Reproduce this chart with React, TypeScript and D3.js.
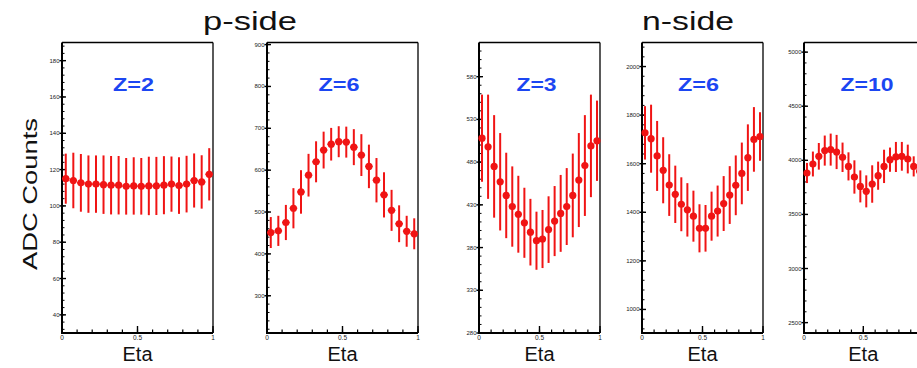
import React, { useRef, useEffect } from 'react'
import * as d3 from 'd3'

// eta bin centres (20 bins over 0..1)
const etaBins = [0.025, 0.075, 0.125, 0.175, 0.225, 0.275, 0.325, 0.375, 0.425, 0.475,
  0.525, 0.575, 0.625, 0.675, 0.725, 0.775, 0.825, 0.875, 0.925, 0.975]

// p-side, Z=2
const pZ2Values = [115, 114, 112.7, 112, 112, 111.7, 111.4, 111.4, 110.8, 111, 110.8, 111, 111, 111.4, 112, 111.2, 112, 114, 113.2, 117.4]
const pZ2Errors = [13.8, 15.3, 15.9, 15.8, 15.8, 16.1, 16.1, 16.1, 15.6, 15.8, 15.6, 16.1, 16, 16, 15.2, 15.6, 15.6, 14.9, 14.7, 14.4]
const pZ2Ticks = [40, 60, 80, 100, 120, 140, 160, 180]

// p-side, Z=6
const pZ6Values = [451, 455, 475, 509, 548, 588, 620, 648, 662, 668, 667, 655, 636, 609, 576, 541, 504, 472, 454, 448]
const pZ6Errors = [37, 36, 42, 48, 52, 51, 49, 44, 39, 37, 37, 43, 50, 52, 53, 54, 49, 44, 37, 37]
const pZ6Ticks = [300, 400, 500, 600, 700, 800, 900]

// n-side, Z=3
const nZ3Values = [508, 498, 475, 457, 441, 428, 419, 409, 398, 388, 390, 401, 411, 420, 428, 441, 459, 476, 499, 505]
const nZ3Errors = [51, 61, 60, 57, 50, 47, 45, 41, 39, 34, 34, 39, 41, 45, 45, 49, 55, 59, 60, 47]
const nZ3Ticks = [280, 330, 380, 430, 480, 530, 580]

// n-side, Z=6
const nZ6Values = [1727, 1703, 1632, 1573, 1512, 1474, 1433, 1410, 1384, 1334, 1334, 1384, 1405, 1436, 1471, 1511, 1560, 1625, 1700, 1712]
const nZ6Errors = [110, 140, 144, 136, 127, 118, 111, 110, 105, 99, 96, 101, 105, 113, 119, 123, 127, 137, 133, 100]
const nZ6Ticks = [1000, 1200, 1400, 1600, 1800, 2000]

// n-side, Z=10
const nZ10Values = [3883, 3966, 4037, 4090, 4099, 4077, 4028, 3944, 3846, 3759, 3713, 3781, 3858, 3944, 4006, 4031, 4037, 4012, 3944, 3900]
const nZ10Errors = [93, 115, 123, 139, 148, 158, 136, 130, 154, 148, 148, 173, 130, 154, 112, 139, 133, 133, 93, 110]
const nZ10Ticks = [2500, 3000, 3500, 4000, 4500, 5000]

const etaTicks = [0, 0.5, 1]
const etaTickLabels = ['0', '0.5', '1']

const RED = '#f01414'
const BLUE = '#1c46f2'
const FONT = 'Arial, "Liberation Sans", sans-serif'

const W = 917
const H = 368
const TOP = 42.5
const BOTTOM = 333

// layout of each frame (pixel range of eta axis) and label placement
const panels = [
  { label: 'Z=2', values: pZ2Values, errors: pZ2Errors, ticks: pZ2Ticks, domain: [30, 190], x0: 62, x1: 213, lx: 133.5, lw: 41 },
  { label: 'Z=6', values: pZ6Values, errors: pZ6Errors, ticks: pZ6Ticks, domain: [211, 905], x0: 267, x1: 418, lx: 339, lw: 41 },
  { label: 'Z=3', values: nZ3Values, errors: nZ3Errors, ticks: nZ3Ticks, domain: [280, 620], x0: 479, x1: 600, lx: 536.5, lw: 40 },
  { label: 'Z=6', values: nZ6Values, errors: nZ6Errors, ticks: nZ6Ticks, domain: [903, 2099], x0: 642, x1: 763, lx: 698.5, lw: 41 },
  { label: 'Z=10', values: nZ10Values, errors: nZ10Errors, ticks: nZ10Ticks, domain: [2404, 5089], x0: 804, x1: 922.6, lx: 867, lw: 53 },
]

export default function App() {
  const svgRef = useRef<SVGSVGElement>(null)

  useEffect(() => {
    if (!svgRef.current) return
    const svg = d3.select(svgRef.current)
    svg.selectAll('*').remove()

    svg.append('rect').attr('width', W).attr('height', H).attr('fill', '#fff')

    panels.forEach(p => {
      const x = d3.scaleLinear().domain([0, 1]).range([p.x0, p.x1])
      const y = d3.scaleLinear().domain(p.domain).range([BOTTOM, TOP])
      const g = svg.append('g')
      const step = p.ticks[1] - p.ticks[0]

      // frame: thin top/right, thick left/bottom
      g.append('line').attr('x1', p.x0).attr('x2', p.x1).attr('y1', TOP).attr('y2', TOP)
        .attr('stroke', '#000').attr('stroke-width', 1.3)
      g.append('line').attr('x1', p.x1).attr('x2', p.x1).attr('y1', TOP).attr('y2', BOTTOM)
        .attr('stroke', '#000').attr('stroke-width', 1.3)
      g.append('line').attr('x1', p.x0).attr('x2', p.x0).attr('y1', TOP).attr('y2', BOTTOM + 1)
        .attr('stroke', '#000').attr('stroke-width', 2)
      g.append('line').attr('x1', p.x0 - 1).attr('x2', p.x1).attr('y1', BOTTOM).attr('y2', BOTTOM)
        .attr('stroke', '#000').attr('stroke-width', 2)

      // y minor ticks (5 per major interval)
      const minorTicks = d3.range(Math.ceil(p.domain[0] / (step / 5)), Math.floor(p.domain[1] / (step / 5)) + 1)
        .map(k => k * step / 5)
      g.selectAll('.ymin').data(minorTicks).enter().append('line')
        .attr('x1', p.x0).attr('x2', p.x0 + 2.5)
        .attr('y1', d => y(d)).attr('y2', d => y(d))
        .attr('stroke', '#000').attr('stroke-width', 1)

      // y major ticks + labels
      g.selectAll('.ymaj').data(p.ticks).enter().append('line')
        .attr('x1', p.x0 - 2.5).attr('x2', p.x0 + 4)
        .attr('y1', d => y(d)).attr('y2', d => y(d))
        .attr('stroke', '#000').attr('stroke-width', 1.4)
      g.selectAll('.ylab').data(p.ticks).enter().append('text')
        .attr('x', p.x0 - 2.5).attr('y', d => y(d) + 2)
        .attr('text-anchor', 'end')
        .style('font-size', '6px').style('font-family', FONT).style('fill', '#222')
        .text(d => d)

      // x minor + major ticks
      const xMinor = d3.range(0, 11).map(k => k / 10).filter(v => x(v) < W)
      g.selectAll('.xmin').data(xMinor).enter().append('line')
        .attr('x1', d => x(d)).attr('x2', d => x(d))
        .attr('y1', BOTTOM).attr('y2', BOTTOM - 3.5)
        .attr('stroke', '#000').attr('stroke-width', 1.2)
      g.selectAll('.xmaj').data(etaTicks).enter().append('line')
        .attr('x1', d => x(d)).attr('x2', d => x(d))
        .attr('y1', BOTTOM).attr('y2', BOTTOM - 7)
        .attr('stroke', '#000').attr('stroke-width', 1.4)
      const shownTicks = etaTicks.map((t, i) => ({ t, s: etaTickLabels[i] })).filter(d => x(d.t) < W - 4)
      g.selectAll('.xlab').data(shownTicks).enter().append('text')
        .attr('x', d => x(d.t)).attr('y', BOTTOM + 7)
        .attr('text-anchor', 'middle')
        .style('font-size', '6.5px').style('font-family', FONT).style('fill', '#222')
        .text(d => d.s)

      // error bars and markers
      const half = (x(0.05) - x(0)) / 2
      const pts = etaBins.map((e, i) => ({ e, v: p.values[i], err: p.errors[i] }))
      g.selectAll('.ebar').data(pts).enter().append('line')
        .attr('x1', d => x(d.e)).attr('x2', d => x(d.e))
        .attr('y1', d => y(d.v + d.err)).attr('y2', d => y(d.v - d.err))
        .attr('stroke', RED).attr('stroke-width', 2)
      g.selectAll('.xbar').data(pts).enter().append('line')
        .attr('x1', d => x(d.e) - half).attr('x2', d => x(d.e) + half)
        .attr('y1', d => y(d.v)).attr('y2', d => y(d.v))
        .attr('stroke', RED).attr('stroke-width', 1.5)
      g.selectAll('.pt').data(pts).enter().append('circle')
        .attr('cx', d => x(d.e)).attr('cy', d => y(d.v)).attr('r', 3.6)
        .attr('fill', RED)

      // panel label (the original is stretched horizontally)
      g.append('text')
        .attr('x', p.lx - p.lw / 2)
        .attr('y', 90.5)
        .attr('textLength', p.lw)
        .attr('lengthAdjust', 'spacingAndGlyphs')
        .style('font-size', '18px').style('font-weight', 'bold')
        .style('font-family', FONT).style('fill', BLUE)
        .text(p.label)

      // axis title
      g.append('text')
        .attr('x', x(0.5)).attr('y', 361)
        .attr('text-anchor', 'middle')
        .style('font-size', '20px').style('font-family', FONT).style('fill', '#111')
        .text('Eta')
    })

    svg.append('text').attr('x', 250 - 47).attr('y', 30)
      .attr('textLength', 94).attr('lengthAdjust', 'spacingAndGlyphs')
      .style('font-size', '25px').style('font-family', FONT).style('fill', '#111')
      .text('p-side')
    svg.append('text').attr('x', 688 - 46).attr('y', 30)
      .attr('textLength', 92).attr('lengthAdjust', 'spacingAndGlyphs')
      .style('font-size', '25px').style('font-family', FONT).style('fill', '#111')
      .text('n-side')
    svg.append('text')
      .attr('transform', 'translate(37,270) rotate(-90)')
      .attr('textLength', 152).attr('lengthAdjust', 'spacingAndGlyphs')
      .style('font-size', '21px').style('font-family', FONT).style('fill', '#111')
      .text('ADC Counts')
  }, [])

  return (
    <svg
      ref={svgRef}
      width={W}
      height={H}
      style={{ position: 'absolute', left: 0, top: 0, background: '#fff', fontFamily: FONT }}
    />
  )
}
